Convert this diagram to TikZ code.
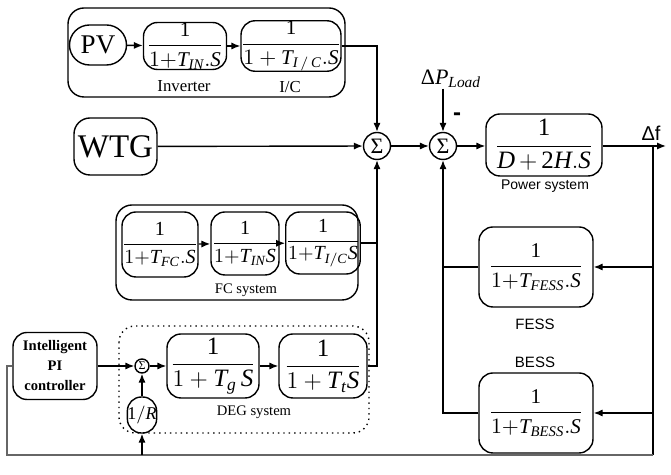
\documentclass[tikz,border=0pt]{standalone}
\usepackage{amsmath}
\usepackage{fontspec}
\setmainfont{Liberation Serif}
\setsansfont{Liberation Sans}
\usetikzlibrary{arrows.meta,positioning}

\newcommand{\tfn}[1]{$\dfrac{\mathrm{1}}{#1}$}
\newcommand{\Tsub}[1]{\mathit{T}_{\mathit{#1}}}
\newcommand{\fs}[1]{\fontsize{#1}{#1}\selectfont}

\tikzset{
  blk/.style={draw, rounded corners=7pt, inner sep=0pt, align=center},
  grp/.style={draw, rounded corners=8pt},
  sumnode/.style={draw, circle, inner sep=0pt, minimum size=13.5pt, font=\fs{11}},
  lbl/.style={inner sep=0pt, font=\fs{7.3}},
  sflbl/.style={inner sep=0pt, font=\sffamily\fs{7.5}},
}

\begin{document}
\begin{tikzpicture}[x=0.5pt, y=-0.5pt, line width=0.7pt, >={Latex[length=4.5pt,width=3.6pt]}]
    \useasboundingbox (0,0) rectangle (671,475);

    \coordinate (df) at (653,146);
    \coordinate (out) at (666,146);
    \coordinate (fb) at (653,455);
    \coordinate (bl) at (7,455);

    % PV branch
    \draw[grp] (68,8) rectangle (345,97);
    \node[blk, rounded corners=10pt, minimum width=28.5pt, minimum height=20pt, font=\fs{13.5}] (pv) at (98,45) {PV};
    \node[blk, minimum width=41.5pt, minimum height=22pt, font=\fs{10.5}] (inv) at (185,46) {\tfn{1{+}\Tsub{IN}.\mathit{S}}};
    \node[blk, minimum width=45.5pt, minimum height=22pt, font=\fs{10.5}] (ic) at (291,46) {\tfn{1+\Tsub{I\,/\,C}.\mathit{S}}};
    \node[lbl, font=\fs{8.4}] at (184,86) {Inverter};
    \node[lbl, font=\fs{8.4}] at (290,87) {I/C};

    \node[blk, rounded corners=8pt, minimum width=41.5pt, minimum height=28.5pt, font=\fs{16.5}] (wtg) at (115.5,146.5) {WTG};

    \node[sumnode] (s1) at (377,146) {Σ};
    \node[sumnode] (s2) at (443,146) {Σ};

    % FC system
    \draw[grp] (116,205) rectangle (358,300);
    \node[blk, minimum width=38pt, minimum height=32.5pt, font=\fs{10}] (fc1) at (160,244.5) {\tfn{1{+}\Tsub{FC}.\mathit{S}}};
    \node[blk, minimum width=34pt, minimum height=31.5pt, font=\fs{10}] (fc2) at (245,243.5) {\tfn{1{+}\Tsub{IN}\mathit{S}}};
    \node[blk, minimum width=31pt, minimum height=31pt, font=\fs{10}] (fc3) at (323,243) {\tfn{1{+}\Tsub{I/C}\mathit{S}}};
    \node[lbl] at (246,290) {FC system};

    % DEG system
    \draw[grp, dotted] (119,326) rectangle (369,433);
    \node[blk, minimum width=42pt, minimum height=33.5pt, font=\fontsize{7.3}{10}\selectfont\bfseries] (pi) at (55,366) {Intelligent\\PI\\controller};
    \node[sumnode, minimum size=7pt, font=\fs{6}] (s0) at (142,366) {Σ};
    \node[blk, minimum width=13pt, minimum height=18pt, font=\fs{9}] (r) at (142,415) {$\mathrm{1}/\mathit{R}$};
    \node[blk, minimum width=46pt, minimum height=32pt, font=\fs{12.5}] (gov) at (213,366) {\tfn{1+\Tsub{g}\,\mathit{S}}};
    \node[blk, minimum width=44pt, minimum height=32pt, font=\fs{12.5}] (tur) at (323,366) {\tfn{1+\Tsub{t}\mathit{S}}};
    \node[lbl] at (254,412) {DEG system};

    % load, plant and storage
    \node[inner sep=0pt, font=\fs{11}] (dpl) at (451,79) {Δ\textit{P}$_{\mathit{Load}}$};
    \node[inner sep=0pt, font=\sffamily\bfseries\fs{12}] at (457,117) {-};
    \node[blk, minimum width=58pt, minimum height=31pt, font=\fs{12.5}] (ps) at (544,145) {$\dfrac{\mathrm{1}}{\mathit{D}\,{+}\,\mathrm{2}\mathit{H}.\mathit{S}}$};
    \node[sflbl, font=\sffamily\fs{7}] at (545,186) {Power system};
    \node[sflbl, font=\sffamily\fs{10}] at (651,133) {Δf};
    \node[blk, minimum width=57pt, minimum height=40pt, font=\fs{10.5}] (fess) at (536,267) {\tfn{1{+}\Tsub{FESS}.\mathit{S}}};
    \node[sflbl] at (535,324) {FESS};
    \node[sflbl] at (535,362) {BESS};
    \node[blk, minimum width=57pt, minimum height=40pt, font=\fs{10.5}] (bess) at (536,413) {\tfn{1{+}\Tsub{BESS}.\mathit{S}}};

    \draw[->] (pv) -- (inv);
    \draw[->] (inv) -- (ic);
    \draw[->] (ic.east) -| (s1.north);
    \draw[->] (wtg) -- (s1);
    \draw[->] (fc1) -- (fc2);
    \draw[->] (fc2) -- (fc3);
    \draw (fc3.east) -- (fc3.east -| s1);
    \draw[->] (tur.east) -| (s1.south);
    \draw[->] (pi.east |- s0) -- (s0);
    \draw[->] (s0) -- (gov);
    \draw[->] (gov) -- (tur);
    \draw[->] (r) -- (s0);
    \draw[->] (s1) -- (s2);
    \draw[->] (dpl.south -| s2) -- (s2.north);
    \draw[->] (s2) -- (s2 -| ps.west);
    \draw[->] (s2 -| ps.east) -- (out);
    \draw (df) -- (fb);
    \draw[->] (df |- fess) -- (fess);
    \draw[->] (df |- bess) -- (bess);
    \draw (fess.west) -- (fess.west -| s2);
    \draw[->] (bess.west) -| (s2.south);
    \draw[black!60] (fb) -- (bl) |- (pi.west);
    \draw[->] (r |- fb) -- (r.south);
\end{tikzpicture}
\end{document}
